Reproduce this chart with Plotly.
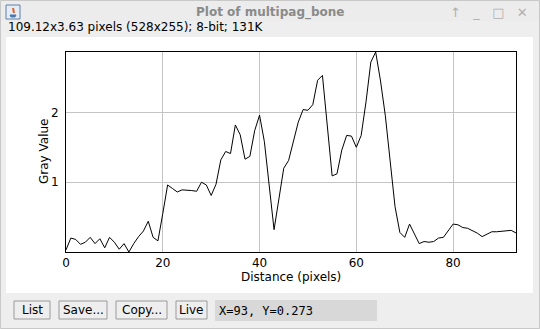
import plotly.graph_objects as go

distance = list(range(94))
gray_value = [
    0.03, 0.20, 0.18, 0.11, 0.14, 0.21, 0.12, 0.19, 0.06, 0.21,
    0.14, 0.04, 0.12, 0.00, 0.12, 0.22, 0.30, 0.44, 0.21, 0.16,
    0.55, 0.96, 0.91, 0.86, 0.89, 0.89, 0.88, 0.87, 1.00, 0.96,
    0.81, 0.97, 1.32, 1.44, 1.41, 1.82, 1.68, 1.33, 1.37, 1.74,
    1.96, 1.58, 0.98, 0.32, 0.76, 1.20, 1.31, 1.60, 1.86, 2.04,
    2.03, 2.11, 2.46, 2.53, 1.80, 1.09, 1.12, 1.46, 1.67, 1.66,
    1.50, 1.67, 2.15, 2.72, 2.865, 2.45, 1.95, 1.25, 0.65, 0.28,
    0.21, 0.40, 0.26, 0.12, 0.15, 0.14, 0.15, 0.20, 0.21, 0.30,
    0.40, 0.39, 0.35, 0.34, 0.31, 0.27, 0.22, 0.26, 0.29, 0.29,
    0.30, 0.30, 0.31, 0.273,
]
x_ticks = [0, 20, 40, 60, 80]
y_ticks = [1, 2]

W, H = 540, 329
L, R, T, B = 66, 516, 52, 252


def px(xp):
    return (xp - L) / (R - L)


def py(yp):
    return (B - yp) / (B - T)


FONT = "DejaVu Sans"

fig = go.Figure()
fig.add_trace(go.Scatter(x=distance, y=gray_value, mode="lines",
                         line=dict(color="black", width=1), hoverinfo="skip"))

shapes = []
# title bar
shapes.append(dict(type="rect", xref="paper", yref="paper", x0=px(0), x1=px(540),
                   y0=py(0), y1=py(21), fillcolor="#ececec", line=dict(width=0), layer="below"))
# white plot panel
shapes.append(dict(type="rect", xref="paper", yref="paper", x0=px(6), x1=px(533),
                   y0=py(37), y1=py(293), fillcolor="white", line=dict(width=0), layer="below"))
# window outline
shapes.append(dict(type="rect", xref="paper", yref="paper", x0=px(0.5), x1=px(539.5),
                   y0=py(0.5), y1=py(328.5), line=dict(color="#c8c8c8", width=1), layer="below"))
# java icon
shapes.append(dict(type="rect", xref="paper", yref="paper", x0=px(6), x1=px(20),
                   y0=py(5), y1=py(19), fillcolor="#e4ecf5", line=dict(color="#5f7fa8", width=1)))
shapes.append(dict(type="path", xref="paper", yref="paper",
                   path=f"M {px(10)},{py(15)} L {px(16)},{py(15)} L {px(15)},{py(17)} L {px(11)},{py(17)} Z",
                   fillcolor="#4a78b0", line=dict(color="#4a78b0", width=1)))
shapes.append(dict(type="line", xref="paper", yref="paper", x0=px(13), x1=px(14),
                   y0=py(8), y1=py(13), line=dict(color="#e2632a", width=2)))

buttons = [("List", 14, 50), ("Save...", 59, 107), ("Copy...", 116, 167), ("Live", 176, 207)]
annotations = []
for label, x0, x1 in buttons:
    shapes.append(dict(type="rect", xref="paper", yref="paper", x0=px(x0), x1=px(x1),
                       y0=py(301), y1=py(319), fillcolor="#eeeeee",
                       line=dict(color="#9a9a9a", width=1)))
    annotations.append(dict(xref="paper", yref="paper", x=px((x0 + x1) / 2), y=py(310),
                            text=label, showarrow=False, xanchor="center", yanchor="middle",
                            font=dict(family=FONT, size=12, color="black")))
shapes.append(dict(type="rect", xref="paper", yref="paper", x0=px(215), x1=px(377),
                   y0=py(300), y1=py(321), fillcolor="#d8d8d8", line=dict(width=0)))
annotations.append(dict(xref="paper", yref="paper", x=px(217), y=py(310.5),
                        text="X=93, Y=0.273", showarrow=False, xanchor="left", yanchor="middle",
                        font=dict(family="DejaVu Sans Mono", size=12, color="black")))

annotations += [
    dict(xref="paper", yref="paper", x=px(270), y=py(12), text="<b>Plot of multipag_bone</b>",
         showarrow=False, xanchor="center", yanchor="middle",
         font=dict(family=FONT, size=12, color="#8a8a8a")),
    dict(xref="paper", yref="paper", x=px(530), y=py(12), text="↑   _   □   ✕", showarrow=False,
         xanchor="right", yanchor="middle", font=dict(family=FONT, size=13, color="#b0b0b0")),
    dict(xref="paper", yref="paper", x=px(6), y=py(27), text="109.12x3.63 pixels (528x255); 8-bit; 131K",
         showarrow=False, xanchor="left", yanchor="middle",
         font=dict(family=FONT, size=12, color="black")),
    dict(xref="paper", yref="paper", x=px(291), y=py(277), text="Distance (pixels)",
         showarrow=False, xanchor="center", yanchor="middle",
         font=dict(family=FONT, size=12, color="black")),
    dict(xref="paper", yref="paper", x=px(44), y=py(152), text="Gray Value", textangle=-90,
         showarrow=False, xanchor="center", yanchor="middle",
         font=dict(family=FONT, size=12, color="black")),
]

fig.update_layout(
    width=W, height=H,
    margin=dict(l=L, r=W - R, t=T, b=H - B, pad=0),
    paper_bgcolor="#eeeeee", plot_bgcolor="white",
    showlegend=False,
    shapes=shapes, annotations=annotations,
    xaxis=dict(range=[0, 93], tickvals=x_ticks, ticktext=[str(v) for v in x_ticks],
               showgrid=True, gridcolor="#c4c4c4", gridwidth=1, zeroline=False,
               showline=True, linecolor="black", linewidth=1, mirror=True,
               ticks="", tickfont=dict(family=FONT, size=12, color="black")),
    yaxis=dict(range=[0, 2.865], tickvals=y_ticks, ticktext=[str(v) for v in y_ticks],
               showgrid=True, gridcolor="#c4c4c4", gridwidth=1, zeroline=False,
               showline=True, linecolor="black", linewidth=1, mirror=True,
               ticks="", ticklabelstandoff=4, tickfont=dict(family=FONT, size=12, color="black")),
)

fig.write_html("out.html")
